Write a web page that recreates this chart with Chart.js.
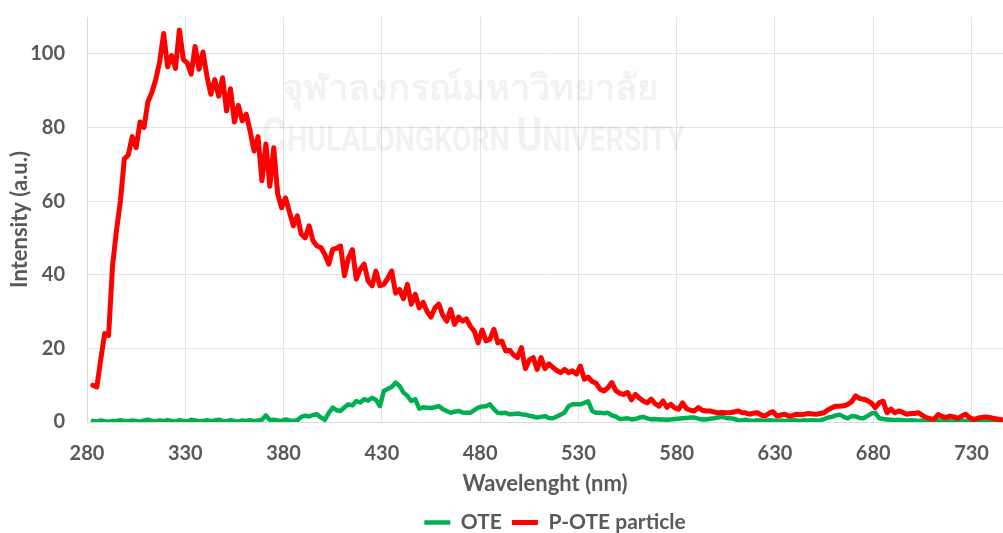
<!DOCTYPE html>
<html>
<head>
<meta charset="utf-8">
<script src="https://cdn.jsdelivr.net/npm/chart.js@4.4.1/dist/chart.umd.min.js"></script>
<style>
  html, body { margin: 0; padding: 0; background: #fff; }
  #wrap { width: 1003px; height: 533px; }
</style>
</head>
<body>
<div id="wrap"><canvas id="spectrum"></canvas></div>
<script>
// wavelength grid: 283 nm to 745 nm, every 2 nm
var wlStart = 283;
var wlStep = 2;

var oteIntensity = [
    0.3, 0.1, 0.4, 0.2, 0.1, 0.3, 0.2, 0.5, 0.3, 0.2,
    0.4, 0.3, 0.1, 0.4, 0.6, 0.3, 0.2, 0.4, 0.2, 0.5,
    0.3, 0.1, 0.5, 0.3, 0.2, 0.6, 0.4, 0.2, 0.3, 0.5,
    0.2, 0.4, 0.6, 0.3, 0.2, 0.5, 0.3, 0.1, 0.4, 0.3,
    0.5, 0.2, 0.4, 0.6, 1.8, 0.5, 0.6, 0.4, 0.3, 0.7,
    0.4, 0.3, 0.5, 1.4, 1.7, 1.5, 1.9, 2.1, 1.2, 0.6,
    2.5, 3.9, 3.2, 3, 4, 4.8, 4.5, 5.7, 5.3, 6.2,
    5.8, 6.6, 6, 4.3, 8.4, 9, 9.5, 10.7, 9.8, 8,
    7.1, 5.7, 6.2, 3.6, 4, 3.9, 3.8, 4, 4.3, 3.5,
    3, 2.5, 2.8, 3, 2.6, 2.5, 2.5, 3.2, 3.9, 4.2,
    4.3, 4.8, 3.5, 2.5, 2.4, 2.5, 2.1, 2.2, 2.3, 2.1,
    2, 1.7, 1.5, 1.2, 1.4, 1.6, 1.1, 1, 1.5, 2,
    2.6, 4.3, 4.8, 4.8, 4.8, 5.2, 5.6, 3, 2.5, 2.5,
    2.4, 2.5, 1.8, 1.5, 0.8, 0.9, 1, 0.7, 0.8, 1.2,
    1.4, 1, 0.7, 0.8, 0.7, 0.7, 0.6, 0.7, 0.8, 0.9,
    1, 1.1, 1.2, 1.2, 0.9, 0.7, 0.7, 0.9, 1, 1.2,
    1.4, 1.1, 1, 0.9, 0.5, 0.4, 0.6, 0.4, 0.3, 0.5,
    0.4, 0.3, 0.5, 0.4, 0.3, 0.4, 0.3, 0.4, 0.5, 0.4,
    0.3, 0.5, 0.4, 0.5, 0.4, 0.5, 0.8, 1.2, 1.4, 1.8,
    2, 1.4, 1, 1.6, 1.5, 1.1, 1, 1.6, 2.3, 2.5,
    1, 0.8, 0.7, 0.6, 0.5, 0.6, 0.5, 0.4, 0.5, 0.4,
    0.3, 0.4, 0.3, 0.4, 0.3, 0.4, 0.3, 0.4, 0.3, 0.4,
    0.3, 0.4, 0.3, 0.4, 0.3, 0.4, 0.3, 0.4, 0.3, 0.4,
    0.3, 0.4
];

var poteIntensity = [
    10, 9.5, 17, 24, 23.5, 42.5, 52, 60, 71.5, 72.5,
    77.5, 74.5, 81.5, 80, 87, 89.5, 93, 98, 105.5, 96.5,
    99.5, 96, 106.5, 98.5, 97.5, 94.5, 102, 95.8, 100.5, 94,
    89, 93, 88.5, 93.5, 84.5, 90.5, 81.5, 86, 81.8, 83.6,
    79, 73.6, 77.5, 65.5, 75.5, 64, 74.5, 62, 58.2, 60.9,
    57, 53.3, 56, 51, 50, 53.3, 49.2, 47.8, 47.4, 45.5,
    42.9, 46.9, 47.2, 47.8, 39.7, 44.6, 46.8, 38.8, 41.5, 42.9,
    38.3, 37, 41, 37, 37.4, 39, 41, 35, 36, 33.5,
    37.4, 32, 34.7, 31, 32.5, 30, 28.5, 31, 32, 29,
    27.4, 30.6, 26.5, 28.5, 27.4, 28, 26, 24.7, 21.5, 25,
    22, 22.5, 25.2, 21.5, 22, 19.3, 19.5, 18.2, 17.5, 20.2,
    14.5, 16.8, 17.5, 14.3, 17.5, 14.5, 15.8, 14.8, 14, 13.4,
    14.3, 13.4, 13.9, 13, 15.2, 11.6, 12.2, 11, 10.5, 8.9,
    8.4, 9.3, 10.7, 8.5, 7.8, 7.5, 8, 6, 7.5, 6.5,
    5.7, 5.2, 6.2, 5, 4.3, 5.7, 4, 4.8, 3.8, 3.5,
    5.2, 3.6, 3.2, 3, 3.9, 3.2, 3, 3, 2.7, 2.5,
    2.6, 2.5, 2.5, 2.7, 3, 2.6, 2.5, 2.1, 2.4, 2.5,
    1.9, 1.6, 2.4, 2.8, 1.6, 1.9, 2.1, 1.6, 1.8, 2.1,
    2, 2.1, 2.3, 2.2, 2.1, 2.3, 2.5, 3.3, 3.9, 4.3,
    4.3, 4.4, 4.8, 5.5, 7.1, 6.4, 6.2, 5.8, 5.2, 3.9,
    5.2, 5.7, 2.5, 3.5, 2.5, 3, 2.6, 2.1, 2.3, 2.3,
    2.5, 1.8, 1.2, 0.9, 0.8, 2, 1.5, 1.2, 1.6, 1.4,
    1, 1.6, 2.1, 1.2, 0.7, 1, 1.2, 1.4, 1.2, 1,
    0.8, 0.7
];

var seriesNames = ['OTE', 'P-OTE particle'];
var seriesColors = ['#00b050', '#ff0000'];
var xTicks = [280, 330, 380, 430, 480, 530, 580, 630, 680, 730];
var yTicks = [0, 20, 40, 60, 80, 100];

function toPoints(values) {
    return values.map(function (v, i) {
        return { x: wlStart + i * wlStep, y: v };
    });
}

var textColor = '#595959';
var gridColor = '#e4e4e4';
var labelFont = { family: 'Lato', size: 20, weight: 'bold' };
var titleFont = { family: 'Lato', size: 22, weight: 'bold' };

// faint university watermark behind the plot
var watermark = {
    id: 'watermark',
    beforeDatasetsDraw: function (chart) {
        var ctx = chart.ctx;
        ctx.save();
        ctx.fillStyle = 'rgba(0,0,0,0.05)';
        ctx.textAlign = 'center';
        ctx.textBaseline = 'alphabetic';
        ctx.font = 'bold 36px "Noto Sans", "DejaVu Sans", sans-serif';
        ctx.fillText('จุฬาลงกรณ์มหาวิทยาลัย', 470, 100);

        var face = '"Roboto", "DejaVu Sans", sans-serif';
        var parts = [['C', 44], ['HULALONGKORN ', 32], ['U', 44], ['NIVERSITY', 32]];
        var total = 0;
        parts.forEach(function (p) {
            ctx.font = 'bold ' + p[1] + 'px ' + face;
            total += ctx.measureText(p[0]).width;
        });
        var squeeze = 423 / total;
        ctx.translate(473, 151);
        ctx.scale(squeeze, 1.1);
        ctx.textAlign = 'left';
        var x = -total / 2;
        parts.forEach(function (p) {
            ctx.font = 'bold ' + p[1] + 'px ' + face;
            ctx.fillText(p[0], x, 0);
            x += ctx.measureText(p[0]).width;
        });
        ctx.restore();
    }
};

// nudge the legend a little to the right of the plot centre
var legendShift = {
    id: 'legendShift',
    afterLayout: function (chart) {
        if (chart.legend) {
            chart.legend.left += 10;
            chart.legend.right += 10;
        }
    }
};

function setTicks(list) {
    return function (scale) {
        scale.ticks = list.map(function (v) { return { value: v }; });
    };
}

var ctx = document.getElementById('spectrum');
var chart = new Chart(ctx, {
    type: 'line',
    data: {
        datasets: [
            {
                label: seriesNames[0],
                data: toPoints(oteIntensity),
                borderColor: seriesColors[0],
                backgroundColor: seriesColors[0],
                borderWidth: 4.5,
                order: 1
            },
            {
                label: seriesNames[1],
                data: toPoints(poteIntensity),
                borderColor: seriesColors[1],
                backgroundColor: seriesColors[1],
                borderWidth: 5,
                order: 0
            }
        ]
    },
    options: {
        responsive: true,
        maintainAspectRatio: false,
        animation: false,
        elements: {
            point: { radius: 0 },
            line: { tension: 0, borderJoinStyle: 'round', borderCapStyle: 'round' }
        },
        layout: {
            padding: { top: 17, right: 0, left: 0, bottom: -10 }
        },
        scales: {
            x: {
                type: 'linear',
                min: 280,
                max: 746,
                grid: { color: gridColor, drawTicks: false },
                border: { color: '#d9d9d9' },
                ticks: {
                    padding: 20,
                    color: textColor,
                    font: labelFont,
                    maxRotation: 0,
                    autoSkip: false
                },
                afterBuildTicks: setTicks(xTicks),
                afterFit: function (scale) {
                    scale.height = 80;
                    scale.paddingLeft = 0;
                    scale.paddingRight = 0;
                },
                title: {
                    display: true,
                    text: 'Wavelenght (nm)',
                    color: textColor,
                    font: titleFont,
                    padding: { top: 4, bottom: 5 }
                }
            },
            y: {
                min: 0,
                max: 110,
                grid: { color: gridColor, drawTicks: false },
                border: { color: '#d9d9d9' },
                ticks: {
                    padding: 22,
                    color: textColor,
                    font: labelFont
                },
                afterBuildTicks: setTicks(yTicks),
                afterFit: function (scale) {
                    scale.width = 87;
                    scale.paddingTop = 0;
                    scale.paddingBottom = 0;
                },
                title: {
                    display: true,
                    text: 'Intensity (a.u.)',
                    color: textColor,
                    font: titleFont,
                    padding: { top: 7, bottom: 0 }
                }
            }
        },
        plugins: {
            legend: {
                position: 'bottom',
                fullSize: false,
                labels: {
                    usePointStyle: true,
                    pointStyle: 'line',
                    pointStyleWidth: 26,
                    padding: 10,
                    color: textColor,
                    font: { family: 'Lato', size: 21, weight: 'bold' },
                    sort: function (a, b) { return a.datasetIndex - b.datasetIndex; }
                }
            },
            tooltip: { enabled: false }
        }
    },
    plugins: [watermark, legendShift]
});
</script>
</body>
</html>
